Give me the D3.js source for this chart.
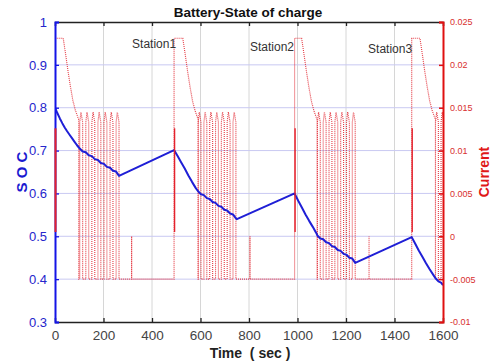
<!DOCTYPE html>
<html>
<head>
<meta charset="utf-8">
<script src="https://cdn.jsdelivr.net/npm/d3@7"></script>
<style>
  body { margin: 0; background: #fff; }
  text { font-family: "Liberation Sans", Arial, Helvetica, sans-serif; }
</style>
</head>
<body>
<svg id="chart" width="492" height="364"></svg>
<script>
// ---- State of charge (left axis) ----
const socTime = [
  0, 10, 20, 30, 40, 50, 60, 70, 80, 90, 100,
  102, 114, 127, 139, 152, 164, 177, 189, 202, 214, 227, 239, 252, 264,
  491, 505, 520, 535, 550, 565, 580, 590,
  602, 614, 626, 638, 650, 662, 674, 686, 698, 710, 722, 734, 746, 750,
  988, 1003, 1018, 1033, 1048, 1063, 1076, 1082,
  1094, 1106, 1118, 1130, 1142, 1154, 1166, 1178, 1190, 1202, 1214, 1226, 1238,
  1471, 1485, 1500, 1515, 1530, 1545, 1560, 1569,
  1581, 1592, 1600
];
const socValue = [
  0.800, 0.787, 0.775, 0.764, 0.754, 0.745, 0.737, 0.729, 0.721, 0.713, 0.706,
  0.705, 0.698, 0.696, 0.689, 0.687, 0.680, 0.678, 0.671, 0.669, 0.662, 0.660, 0.653, 0.651, 0.641,
  0.701, 0.688, 0.673, 0.658, 0.642, 0.627, 0.613, 0.605,
  0.598, 0.596, 0.589, 0.587, 0.580, 0.578, 0.571, 0.569, 0.562, 0.560, 0.553, 0.551, 0.542, 0.540,
  0.600, 0.583, 0.567, 0.551, 0.536, 0.522, 0.509, 0.502,
  0.495, 0.493, 0.486, 0.484, 0.477, 0.475, 0.468, 0.466, 0.459, 0.457, 0.450, 0.448, 0.438,
  0.498, 0.483, 0.467, 0.452, 0.437, 0.423, 0.410, 0.402,
  0.395, 0.392, 0.386
];

// ---- Current (right axis) ----
const stationRise = [0, 491, 988, 1471];        // charger connection times
const flatEnd = [34, 527, 1017, 1505];           // end of peak charging current
const decayOffset = [0, 10, 20, 30, 40, 50, 60, 64];
const decayCurrent = [0.0231, 0.0212, 0.0192, 0.0174, 0.0158, 0.0147, 0.0139, 0.0136];
const pulseRises = [
  [102, 127, 152, 177, 202, 227, 252],
  [590, 614, 638, 662, 686, 710, 734],
  [1082, 1106, 1130, 1154, 1178, 1202, 1226],
  [1569, 1592]
];
const pulseOffset = [0, 0, 5, 12, 12];
const pulseCurrent = [-0.005, 0.0133, 0.0145, 0.0133, -0.005];
const spikeTimes = [316, 804, 1295];
const restCurrent = -0.005;
const spikeCurrent = 0;
const rampCurrent = [0.0005, 0.0126];

// ---- Axes & labels ----
const xTicks = [0, 200, 400, 600, 800, 1000, 1200, 1400, 1600];
const socTicks = [0.3, 0.4, 0.5, 0.6, 0.7, 0.8, 0.9, 1];
const socTickLabels = ["0.3", "0.4", "0.5", "0.6", "0.7", "0.8", "0.9", "1"];
const curTicks = [-0.01, -0.005, 0, 0.005, 0.01, 0.015, 0.02, 0.025];
const curTickLabels = ["-0.01", "-0.005", "0", "0.005", "0.01", "0.015", "0.02", "0.025"];
const stationNames = ["Station1", "Station2", "Station3"];
const stationNameTime = [318, 804, 1291];
const stationNameSoc = [0.939, 0.932, 0.927];

// assemble the current trace from its pieces
const current = [];
stationRise.forEach((rise, s) => {
  current.push([rise, s === 0 ? rampCurrent[0] : restCurrent]);
  current.push([rise, decayCurrent[0]]);
  decayOffset.forEach((o, i) => current.push([flatEnd[s] + o, decayCurrent[i]]));
  current.push([flatEnd[s] + decayOffset[decayOffset.length - 1], restCurrent]);
  pulseRises[s].forEach(r => pulseOffset.forEach((o, i) => current.push([r + o, pulseCurrent[i]])));
  if (s < spikeTimes.length) {
    current.push([spikeTimes[s], restCurrent], [spikeTimes[s], spikeCurrent], [spikeTimes[s], restCurrent]);
  }
});

const svg = d3.select("#chart");
const L = 55, R = 443, T = 22, B = 322;

const x = d3.scaleLinear().domain([0, 1600]).range([L, R]);
const ySoc = d3.scaleLinear().domain([0.3, 1]).range([B, T]);
const yCur = d3.scaleLinear().domain([-0.01, 0.025]).range([B, T]);

svg.append("defs").append("clipPath").attr("id", "plot")
  .append("rect").attr("x", L).attr("y", T - 1).attr("width", R - L).attr("height", B - T + 2);

// grid
const grid = svg.append("g");
grid.selectAll(".vg").data(xTicks.slice(1, -1)).join("line")
  .attr("x1", d => x(d)).attr("x2", d => x(d)).attr("y1", T).attr("y2", B)
  .attr("stroke", "#d6d6d6").attr("stroke-width", 1);
grid.selectAll(".hg").data(socTicks.slice(1, -1)).join("line")
  .attr("x1", L).attr("x2", R).attr("y1", d => ySoc(d)).attr("y2", d => ySoc(d))
  .attr("stroke", "#c9c9f2").attr("stroke-width", 1);

// top and bottom frame with x ticks
const axBottom = svg.append("g").attr("transform", `translate(0,${B})`)
  .call(d3.axisBottom(x).tickValues(xTicks).tickSize(-4).tickPadding(8).tickFormat(d3.format("d")));
const axTop = svg.append("g").attr("transform", `translate(0,${T})`)
  .call(d3.axisTop(x).tickValues(xTicks).tickSize(-4).tickFormat(""));
[axBottom, axTop].forEach(g => {
  g.select(".domain").attr("stroke", "#222").attr("stroke-width", 1.3);
  g.selectAll(".tick line").attr("stroke", "#222").attr("stroke-width", 1.3);
});
axBottom.selectAll(".tick text").attr("font-size", 13.5).attr("fill", "#444")
  .attr("font-family", "Liberation Sans, Arial, sans-serif");

// current trace
const lineCur = d3.line().x(d => x(d[0])).y(d => yCur(d[1]));
const plot = svg.append("g").attr("clip-path", "url(#plot)");
plot.append("path").datum(current).attr("d", lineCur)
  .attr("fill", "none").attr("stroke", "#e22a34").attr("stroke-width", 1.15)
  .attr("stroke-dasharray", "1,1").attr("opacity", 0.9);

// SOC trace
const lineSoc = d3.line().x((d, i) => x(socTime[i])).y(d => ySoc(d));
plot.append("path").datum(socValue).attr("d", lineSoc)
  .attr("fill", "none").attr("stroke", "#1f1fd6").attr("stroke-width", 2)
  .attr("stroke-linejoin", "round");

// left axis
const axLeft = svg.append("g").attr("transform", `translate(${L},0)`)
  .call(d3.axisLeft(ySoc).tickValues(socTicks).tickSize(-4).tickPadding(8)
    .tickFormat((d, i) => socTickLabels[i]));
axLeft.select(".domain").attr("stroke", "#1414e6").attr("stroke-width", 2);
axLeft.selectAll(".tick line").attr("stroke", "#1414e6").attr("stroke-width", 1.3);
axLeft.selectAll(".tick text").attr("font-size", 13).attr("fill", "#2626cc")
  .attr("font-family", "Liberation Sans, Arial, sans-serif");

// solid ramp at each charger connection, drawn over the axis line
svg.selectAll(".ramp").data(stationRise).join("line")
  .attr("x1", d => x(d) + 0.5).attr("x2", d => x(d) + 0.5)
  .attr("y1", yCur(rampCurrent[0])).attr("y2", yCur(rampCurrent[1]))
  .attr("stroke", "#e4222c").attr("stroke-width", (d, i) => i === 0 ? 2 : 1.4);

// right axis
const axRight = svg.append("g").attr("transform", `translate(${R},0)`)
  .call(d3.axisRight(yCur).tickValues(curTicks).tickSize(-4).tickPadding(7)
    .tickFormat((d, i) => curTickLabels[i]));
axRight.select(".domain").attr("stroke", "#e01010").attr("stroke-width", 2);
axRight.selectAll(".tick line").attr("stroke", "#e01010").attr("stroke-width", 1.5);
axRight.selectAll(".tick text").attr("font-size", 9).attr("fill", "#d83030")
  .attr("font-family", "Liberation Sans, Arial, sans-serif");

// station names
svg.selectAll(".station").data(stationNames).join("text")
  .attr("x", (d, i) => x(stationNameTime[i])).attr("y", (d, i) => ySoc(stationNameSoc[i]))
  .attr("font-size", 12).attr("fill", "#333").text(d => d);

// titles
svg.append("text").attr("x", 248).attr("y", 17).attr("text-anchor", "middle")
  .attr("font-size", 13.5).attr("font-weight", "bold").attr("fill", "#111")
  .text("Battery-State of charge");
svg.append("text").attr("x", 250).attr("y", 358).attr("text-anchor", "middle")
  .attr("font-size", 14).attr("font-weight", "bold").attr("fill", "#222")
  .style("white-space", "pre")
  .text("Time  ( sec )");
svg.append("text").attr("transform", `translate(27,${(T + B) / 2}) rotate(-90)`)
  .attr("text-anchor", "middle").attr("font-size", 15).attr("font-weight", "bold")
  .attr("fill", "#1a1ad0").style("white-space", "pre").text("S O C");
svg.append("text").attr("transform", `translate(489,${(T + B) / 2}) rotate(-90)`)
  .attr("text-anchor", "middle").attr("font-size", 14).attr("font-weight", "bold")
  .attr("fill", "#e01818").text("Current");
</script>
</body>
</html>
